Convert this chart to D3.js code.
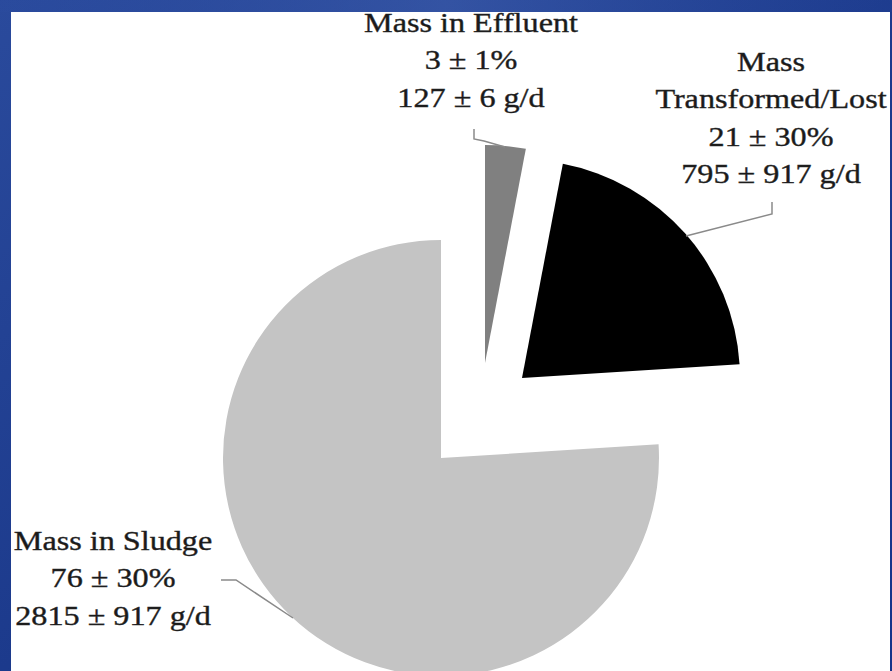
<!DOCTYPE html>
<html>
<head>
<meta charset="utf-8">
<script src="https://cdn.jsdelivr.net/npm/d3@7/dist/d3.min.js"></script>
<style>
  html, body { margin: 0; padding: 0; background: #1d3c8e; }
  svg { display: block; }
</style>
</head>
<body>
<svg id="chart" width="892" height="671"></svg>
<script>
// ---- data ----
const categories = ["Mass in Effluent", "Mass Transformed/Lost", "Mass in Sludge"];
const percentValues = [3, 21, 76];
const percentErrors = [1, 30, 30];
const massValues = [127, 795, 2815];
const massErrors = [6, 917, 917];
const labelLines = [
  ["Mass in Effluent"],
  ["Mass", "Transformed/Lost"],
  ["Mass in Sludge"]
];

// ---- layout ----
const W = 892, H = 671;
const center = [441, 458];
const radius = 218;
const explode = [[44, -95], [81, -80], [0, 0]];
const colors = ["#808080", "#000000", "#c4c4c4"];
const labelPos = [
  { x: 471, y: 32 },
  { x: 771, y: 71 },
  { x: 113, y: 550 }
];
const lineGap = 37.5;
const leaders = [
  [[474, 129], [474, 139], [484, 141], [505, 147]],
  [[772, 202], [772, 214], [686, 236]],
  [[221, 580], [236, 580], [293, 618]]
];

const svg = d3.select("#chart");

// background
const defs = svg.append("defs");
const grad = defs.append("linearGradient").attr("id", "bg")
  .attr("x1", "0").attr("y1", "0").attr("x2", "1").attr("y2", "1");
grad.append("stop").attr("offset", "0").attr("stop-color", "#2a4a9c");
grad.append("stop").attr("offset", "0.5").attr("stop-color", "#1c3a8c");
grad.append("stop").attr("offset", "1").attr("stop-color", "#17348a");
svg.append("rect").attr("width", W).attr("height", H).attr("fill", "url(#bg)");
const streak = defs.append("linearGradient").attr("id", "streak")
  .attr("x1", "0").attr("y1", "0").attr("x2", "1").attr("y2", "0");
streak.append("stop").attr("offset", "0").attr("stop-color", "#2d4fa6").attr("stop-opacity", 0.2);
streak.append("stop").attr("offset", "0.5").attr("stop-color", "#4b6bb8").attr("stop-opacity", 0.7);
streak.append("stop").attr("offset", "1").attr("stop-color", "#2d4fa6").attr("stop-opacity", 0.2);
svg.append("rect").attr("x", 0).attr("y", 0).attr("width", W).attr("height", 12)
  .attr("fill", "url(#streak)").attr("opacity", 0.6);

// white panel
svg.append("rect").attr("x", 11).attr("y", 12).attr("width", 879).attr("height", H - 12)
  .attr("fill", "#ffffff");

// pie
const pie = d3.pie().sort(null).value(d => d)(percentValues);
const arc = d3.arc().innerRadius(0).outerRadius(radius);

const slices = svg.append("g").attr("transform", `translate(${center[0]},${center[1]})`);
slices.selectAll("path").data(pie).join("path")
  .attr("transform", (d, i) => `translate(${explode[i][0]},${explode[i][1]})`)
  .attr("d", arc)
  .attr("fill", (d, i) => colors[i])
  .attr("stroke", "none");

// leader lines
const lineGen = d3.line();
svg.selectAll("path.leader").data(leaders).join("path")
  .attr("class", "leader")
  .attr("d", d => lineGen(d))
  .attr("fill", "none")
  .attr("stroke", "#8a8a8a")
  .attr("stroke-width", 1.5);

// labels
const labels = categories.map((c, i) => [
  ...labelLines[i],
  `${percentValues[i]} \u00b1 ${percentErrors[i]}%`,
  `${massValues[i]} \u00b1 ${massErrors[i]} g/d`
]);

labels.forEach((lines, i) => {
  const g = svg.append("g")
    .attr("transform", `translate(${labelPos[i].x},${labelPos[i].y}) scale(1.15,1)`);
  g.selectAll("text").data(lines).join("text")
    .attr("x", 0)
    .attr("y", (d, j) => j * lineGap)
    .attr("text-anchor", "middle")
    .attr("font-family", "'Liberation Serif', 'Times New Roman', serif")
    .attr("font-size", 28)
    .attr("fill", "#1a1a1a")
    .attr("stroke", "#2a2a2a")
    .attr("stroke-width", 0.4)
    .text(d => d);
});
</script>
</body>
</html>
